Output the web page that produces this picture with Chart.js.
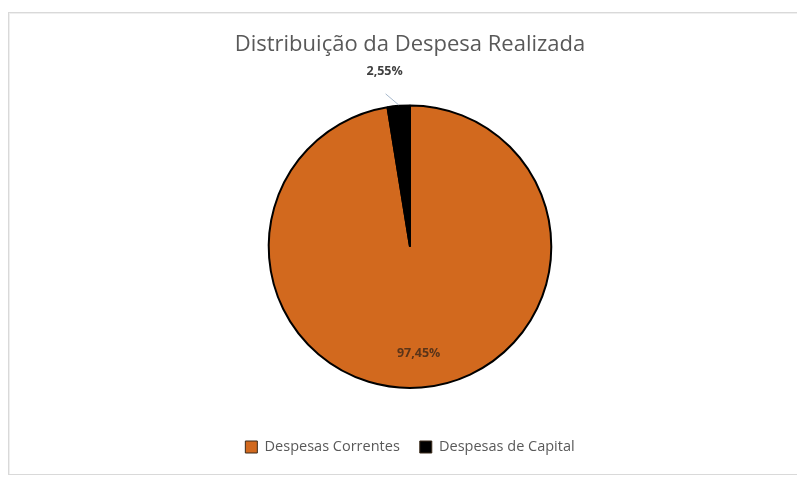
<!DOCTYPE html>
<html>
<head>
<meta charset="utf-8">
<script src="https://cdn.jsdelivr.net/npm/chart.js@4"></script>
<style>
  html, body { margin: 0; padding: 0; background: #fff; }
  #wrap { position: relative; width: 797px; height: 478px; }
  #frame {
    position: absolute; left: 8px; top: 12px; width: 800px; height: 461px;
    border: 1px solid #d9d9d9; box-shadow: inset 1px 1px 0 #efefef;
  }
  #chart { position: absolute; left: 0; top: 0; }
</style>
</head>
<body>
<div id="wrap">
  <div id="frame"></div>
  <canvas id="chart" width="797" height="478"></canvas>
</div>
<script>
// categorias e percentuais
const categorias = ['Despesas Correntes', 'Despesas de Capital'];
const percentuais = [97.45, 2.55];
const cores = ['#d2691e', '#000000'];

const fonte = "'Open Sans', 'Noto Sans', sans-serif";

function fmt(v) {
    return v.toFixed(2).replace('.', ',') + '%';
}

// rótulos de valor: dentro da fatia grande, fora (com linha guia) na pequena
const rotulos = {
    id: 'rotulos',
    afterDatasetsDraw(chart) {
        const ctx = chart.ctx;
        const arcs = chart.getDatasetMeta(0).data;
        ctx.save();
        ctx.font = 'bold 12.5px ' + fonte;
        ctx.textAlign = 'center';
        ctx.textBaseline = 'middle';
        arcs.forEach((arc, i) => {
            const mid = (arc.startAngle + arc.endAngle) / 2;
            const r = arc.outerRadius;
            const texto = fmt(percentuais[i]);
            if (percentuais[i] > 10) {
                const x = arc.x + Math.cos(mid) * r * 0.76;
                const y = arc.y + Math.sin(mid) * r * 0.76;
                ctx.fillStyle = '#5a3419';
                ctx.fillText(texto, x, y);
            } else {
                const ex = arc.x + Math.cos(mid) * (r + 1);
                const ey = arc.y + Math.sin(mid) * (r + 1);
                ctx.strokeStyle = '#a6b8cc';
                ctx.lineWidth = 1;
                ctx.beginPath();
                ctx.moveTo(ex, ey);
                ctx.lineTo(ex - 13, ey - 11);
                ctx.stroke();
                ctx.fillStyle = '#404040';
                ctx.fillText(texto, ex - 14, ey - 33);
            }
        });
        ctx.restore();
    }
};

new Chart(document.getElementById('chart'), {
    type: 'pie',
    data: {
        labels: categorias,
        datasets: [{
            data: percentuais,
            backgroundColor: cores,
            borderColor: '#000000',
            borderWidth: 2
        }]
    },
    options: {
        responsive: false,
        animation: false,
        layout: { padding: { top: 24, bottom: 13.75, left: 23, right: 0 } },
        plugins: {
            title: {
                display: true,
                text: 'Distribuição da Despesa Realizada',
                color: '#595959',
                font: { family: fonte, size: 22, weight: 'normal' },
                padding: { top: 8, bottom: 46 }
            },
            legend: {
                position: 'bottom',
                // título vazio só para afastar a legenda da pizza
                title: {
                    display: true,
                    text: ' ',
                    font: { size: 10 },
                    padding: { top: 0, bottom: 18.75 }
                },
                labels: {
                    color: '#595959',
                    font: { family: fonte, size: 14.5 },
                    boxWidth: 12,
                    boxHeight: 12,
                    padding: 20,
                    generateLabels(chart) {
                        return categorias.map((c, i) => ({
                            text: c,
                            fillStyle: cores[i],
                            strokeStyle: '#3a2a1a',
                            lineWidth: 1,
                            fontColor: '#595959',
                            index: i
                        }));
                    }
                }
            },
            tooltip: { enabled: false }
        }
    },
    plugins: [rotulos]
});
</script>
</body>
</html>
